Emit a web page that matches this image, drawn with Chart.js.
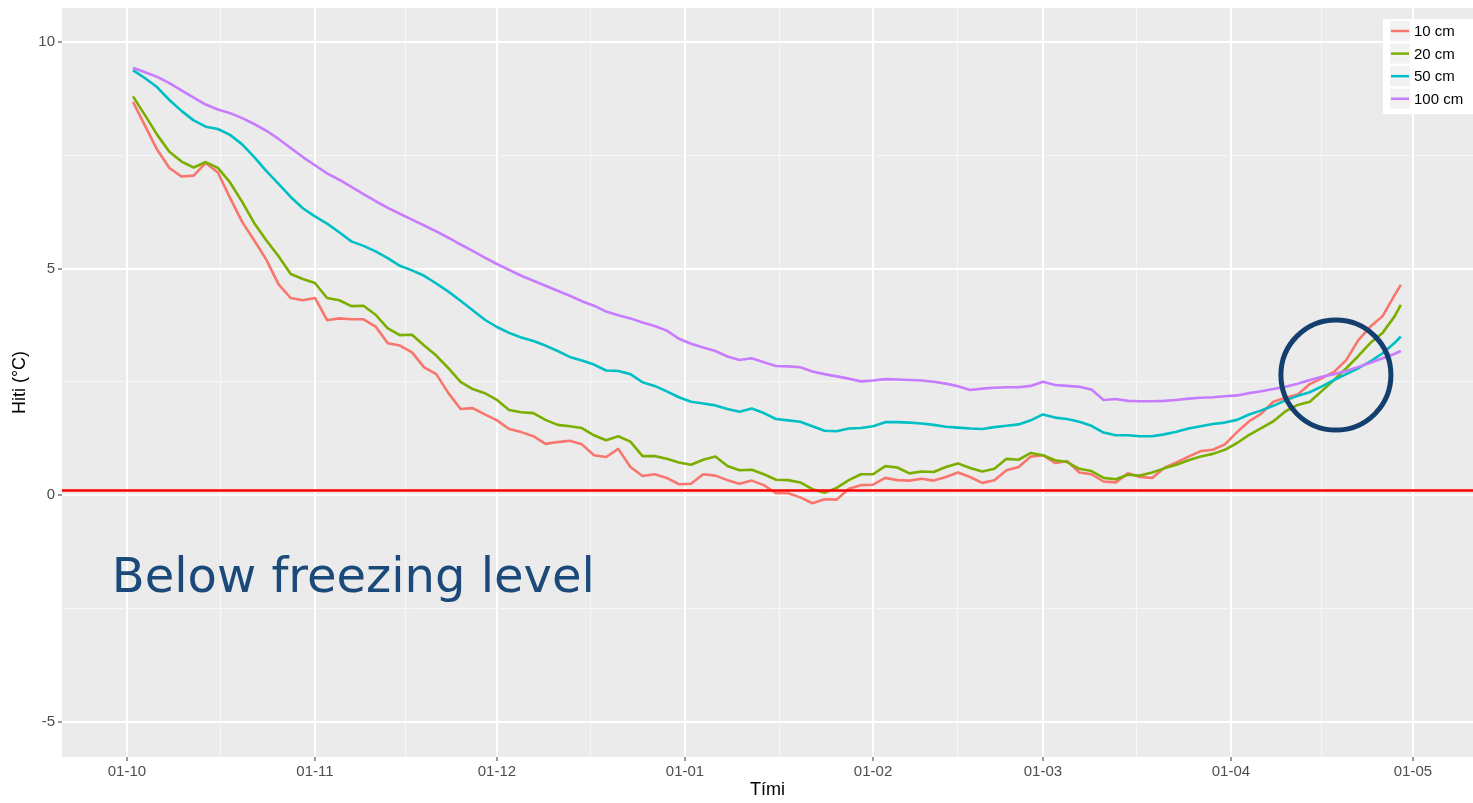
<!DOCTYPE html>
<html>
<head>
<meta charset="utf-8">
<script src="https://cdn.jsdelivr.net/npm/chart.js@4.4.1/dist/chart.umd.min.js"></script>
<style>
html, body { margin: 0; padding: 0; background: #fff; }
#wrap { position: relative; width: 1473px; height: 803px; }
</style>
</head>
<body>
<div id="wrap"><canvas id="myChart" width="1473" height="803"></canvas></div>
<script>
// Dagar frá 1. október
const days = [1,3,5,7,9,11,13,15,17,19,21,23,25,27,29,31,33,35,37,39,
  41,43,45,47,49,51,53,55,57,59,61,63,65,67,69,71,73,75,77,79,
  81,83,85,87,89,91,93,95,97,99,101,103,105,107,109,111,113,115,117,119,
  121,123,125,127,129,131,133,135,137,139,141,143,145,147,149,151,153,155,157,159,
  161,163,165,167,169,171,173,175,177,179,181,183,185,187,189,191,193,195,197,199,
  201,203,205,207,209,210];

const temp10 = [8.68,8.15,7.62,7.22,7.03,7.05,7.33,7.12,6.56,6.03,
  5.62,5.19,4.65,4.35,4.30,4.35,3.86,3.90,3.88,3.88,
  3.72,3.35,3.30,3.15,2.82,2.67,2.25,1.90,1.92,1.78,
  1.65,1.46,1.39,1.30,1.13,1.17,1.20,1.12,0.88,0.84,
  1.02,0.62,0.42,0.46,0.38,0.24,0.25,0.46,0.43,0.33,
  0.25,0.32,0.22,0.04,0.04,-0.05,-0.18,-0.09,-0.10,0.14,
  0.22,0.23,0.38,0.33,0.32,0.36,0.32,0.40,0.50,0.40,
  0.27,0.33,0.55,0.62,0.85,0.88,0.71,0.75,0.50,0.46,
  0.30,0.28,0.48,0.40,0.38,0.60,0.72,0.85,0.97,1.00,
  1.12,1.39,1.63,1.80,2.06,2.15,2.22,2.45,2.58,2.72,
  2.98,3.42,3.72,3.95,4.42,4.64];

const temp20 = [8.80,8.38,7.95,7.58,7.36,7.23,7.35,7.22,6.90,6.47,
  6.00,5.62,5.27,4.88,4.77,4.68,4.35,4.30,4.17,4.18,
  3.98,3.68,3.53,3.54,3.30,3.08,2.80,2.50,2.34,2.25,
  2.10,1.88,1.83,1.81,1.66,1.55,1.52,1.48,1.32,1.21,
  1.30,1.18,0.86,0.86,0.80,0.72,0.67,0.78,0.85,0.64,
  0.55,0.56,0.46,0.34,0.33,0.28,0.13,0.05,0.16,0.33,
  0.46,0.46,0.64,0.61,0.48,0.52,0.51,0.62,0.70,0.60,
  0.52,0.58,0.80,0.78,0.93,0.88,0.77,0.73,0.58,0.53,
  0.38,0.35,0.45,0.43,0.50,0.59,0.67,0.77,0.85,0.91,
  1.00,1.15,1.33,1.48,1.63,1.85,1.99,2.06,2.30,2.54,
  2.80,3.07,3.36,3.58,3.95,4.20];

const temp50 = [9.38,9.20,9.00,8.72,8.48,8.27,8.13,8.08,7.95,7.74,
  7.46,7.15,6.87,6.58,6.33,6.15,5.99,5.80,5.60,5.50,
  5.38,5.23,5.06,4.96,4.84,4.67,4.49,4.29,4.08,3.87,
  3.71,3.58,3.48,3.40,3.30,3.18,3.05,2.97,2.88,2.75,
  2.74,2.67,2.49,2.41,2.29,2.16,2.06,2.02,1.98,1.90,
  1.84,1.91,1.81,1.68,1.65,1.62,1.52,1.42,1.41,1.47,
  1.48,1.52,1.61,1.61,1.60,1.58,1.55,1.51,1.49,1.47,
  1.46,1.50,1.53,1.56,1.65,1.78,1.71,1.68,1.62,1.53,
  1.38,1.32,1.32,1.30,1.30,1.34,1.40,1.47,1.52,1.57,
  1.60,1.66,1.78,1.87,1.97,2.09,2.19,2.27,2.40,2.54,
  2.67,2.80,2.95,3.13,3.36,3.50];

const temp100 = [9.43,9.33,9.23,9.09,8.93,8.77,8.62,8.51,8.43,8.32,
  8.19,8.04,7.86,7.66,7.46,7.28,7.10,6.96,6.80,6.64,
  6.49,6.34,6.21,6.08,5.95,5.82,5.68,5.53,5.39,5.24,
  5.10,4.97,4.84,4.73,4.62,4.51,4.40,4.28,4.18,4.05,
  3.97,3.90,3.81,3.73,3.63,3.45,3.34,3.26,3.18,3.06,
  2.98,3.02,2.93,2.85,2.84,2.82,2.73,2.67,2.62,2.57,
  2.51,2.53,2.56,2.55,2.54,2.53,2.50,2.46,2.40,2.32,
  2.35,2.37,2.38,2.38,2.41,2.50,2.43,2.41,2.39,2.33,
  2.10,2.12,2.08,2.07,2.07,2.08,2.10,2.13,2.15,2.16,
  2.18,2.20,2.25,2.29,2.34,2.39,2.46,2.54,2.61,2.67,
  2.74,2.83,2.92,3.02,3.12,3.18];

const seriesLabels = ['10 cm', '20 cm', '50 cm', '100 cm'];
const seriesColors = ['#F8766D', '#7CAE00', '#00BFC4', '#C77CFF'];

// Mánaðamót og merkingar á x-ás
const monthStarts = [0, 31, 61, 92, 123, 151, 182, 212];
const monthLabels = ['01-10', '01-11', '01-12', '01-01', '01-02', '01-03', '01-04', '01-05'];
const monthMids = [15.5, 46, 76.5, 107.5, 137, 166.5, 197];

const yMajor = [-5, 0, 5, 10];
const yMinor = [-2.5, 2.5, 7.5];

const xMin = -10.7, xMax = 221.9;
const yMin = -5.78, yMax = 10.75;

const freezeLevel = 0.1;   // rauða línan
const noteText = 'Below freezing level';
const notePos = { x: -2.5, y: -2.14 };
const ringPos = { x: 199.3, y: 2.65 };

const tickFont = { family: 'Liberation Sans, Arial, sans-serif', size: 15 };
const titleFont = { family: 'Liberation Sans, Arial, sans-serif', size: 18 };

function toPoints(vals) {
    return days.map((d, i) => ({ x: d, y: vals[i] }));
}

const isMajorX = v => monthStarts.includes(v);
const isMajorY = v => yMajor.includes(v);

// Grár bakgrunnur eins og í ggplot
const panelBg = {
    id: 'panelBg',
    beforeDraw(chart) {
        const { ctx, chartArea: a } = chart;
        ctx.save();
        ctx.fillStyle = '#EBEBEB';
        ctx.fillRect(a.left, a.top, a.right - a.left, a.bottom - a.top);
        ctx.restore();
    }
};

// Texti og hringur
const notes = {
    id: 'notes',
    afterDatasetsDraw(chart) {
        const { ctx, scales: { x, y } } = chart;
        ctx.save();
        ctx.fillStyle = '#1B4A7A';
        ctx.font = '48px "DejaVu Sans", Verdana, sans-serif';
        ctx.textBaseline = 'alphabetic';
        ctx.fillText(noteText, x.getPixelForValue(notePos.x), y.getPixelForValue(notePos.y));

        ctx.beginPath();
        ctx.strokeStyle = '#123F6E';
        ctx.lineWidth = 5;
        ctx.arc(x.getPixelForValue(ringPos.x), y.getPixelForValue(ringPos.y), 55, 0, Math.PI * 2);
        ctx.stroke();
        ctx.restore();
    }
};

// Skýringar uppi til hægri
const legendBox = {
    id: 'legendBox',
    afterDraw(chart) {
        const { ctx, chartArea: a } = chart;
        const left = a.right - 90, top = 19;
        ctx.save();
        ctx.fillStyle = '#FFFFFF';
        ctx.fillRect(left, top, 90, 95);
        seriesLabels.forEach((lab, i) => {
            const cy = top + 12 + i * 22.6;
            ctx.fillStyle = '#F2F2F2';
            ctx.fillRect(left + 7, cy - 10, 20, 20);
            ctx.strokeStyle = seriesColors[i];
            ctx.lineWidth = 2.5;
            ctx.beginPath();
            ctx.moveTo(left + 8, cy);
            ctx.lineTo(left + 26, cy);
            ctx.stroke();
            ctx.fillStyle = '#000000';
            ctx.font = '15px "Liberation Sans", Arial, sans-serif';
            ctx.textBaseline = 'middle';
            ctx.fillText(lab, left + 31, cy + 1);
        });
        ctx.restore();
    }
};

const datasets = [
    {
        label: 'freeze',
        data: [{ x: xMin, y: freezeLevel }, { x: xMax, y: freezeLevel }],
        borderColor: '#FF0000',
        borderWidth: 2.5,
        order: 0
    },
    ...[temp10, temp20, temp50, temp100].map((vals, i) => ({
        label: seriesLabels[i],
        data: toPoints(vals),
        borderColor: seriesColors[i],
        borderWidth: 2.6,
        order: 4 - i
    }))
];

const ctx = document.getElementById('myChart').getContext('2d');
const myChart = new Chart(ctx, {
    type: 'line',
    data: { datasets },
    options: {
        responsive: false,
        animation: false,
        layout: { padding: { top: 8, right: 0, left: 0, bottom: 0 } },
        elements: { point: { radius: 0 }, line: { tension: 0, borderJoinStyle: 'round' } },
        plugins: { legend: { display: false }, tooltip: { enabled: false } },
        scales: {
            x: {
                type: 'linear',
                min: xMin,
                max: xMax,
                afterBuildTicks(scale) {
                    scale.ticks = monthStarts.concat(monthMids).sort((a, b) => a - b).map(v => ({ value: v }));
                },
                afterFit(scale) {
                    scale.height = 46;
                    scale.paddingLeft = 0;
                    scale.paddingRight = 0;
                },
                ticks: {
                    autoSkip: false,
                    maxRotation: 0,
                    padding: 2,
                    color: '#4D4D4D',
                    font: tickFont,
                    callback: v => {
                        const i = monthStarts.indexOf(v);
                        return i >= 0 ? monthLabels[i] : '';
                    }
                },
                grid: {
                    color: c => (c.tick && isMajorX(c.tick.value)) ? '#FFFFFF' : '#F7F7F7',
                    lineWidth: c => (c.tick && isMajorX(c.tick.value)) ? 2 : 1,
                    tickColor: c => (c.tick && isMajorX(c.tick.value)) ? '#333333' : 'rgba(0,0,0,0)',
                    tickWidth: 1,
                    tickLength: 4
                },
                border: { display: false },
                title: { display: true, text: 'Tími', color: '#000000', font: titleFont, padding: { top: 0, bottom: 2 } }
            },
            y: {
                type: 'linear',
                min: yMin,
                max: yMax,
                afterBuildTicks(scale) {
                    scale.ticks = yMajor.concat(yMinor).sort((a, b) => a - b).map(v => ({ value: v }));
                },
                afterFit(scale) {
                    scale.width = 62;
                    scale.paddingTop = 0;
                    scale.paddingBottom = 0;
                },
                ticks: {
                    padding: 3,
                    color: '#4D4D4D',
                    font: tickFont,
                    callback: v => isMajorY(v) ? String(v) : ''
                },
                grid: {
                    color: c => (c.tick && isMajorY(c.tick.value)) ? '#FFFFFF' : '#F7F7F7',
                    lineWidth: c => (c.tick && isMajorY(c.tick.value)) ? 2 : 1,
                    tickColor: c => (c.tick && isMajorY(c.tick.value)) ? '#333333' : 'rgba(0,0,0,0)',
                    tickWidth: 1,
                    tickLength: 4
                },
                border: { display: false },
                title: { display: true, text: 'Hiti (°C)', color: '#000000', font: titleFont, padding: { top: 9, bottom: 0 } }
            }
        }
    },
    plugins: [panelBg, notes, legendBox]
});
</script>
</body>
</html>
